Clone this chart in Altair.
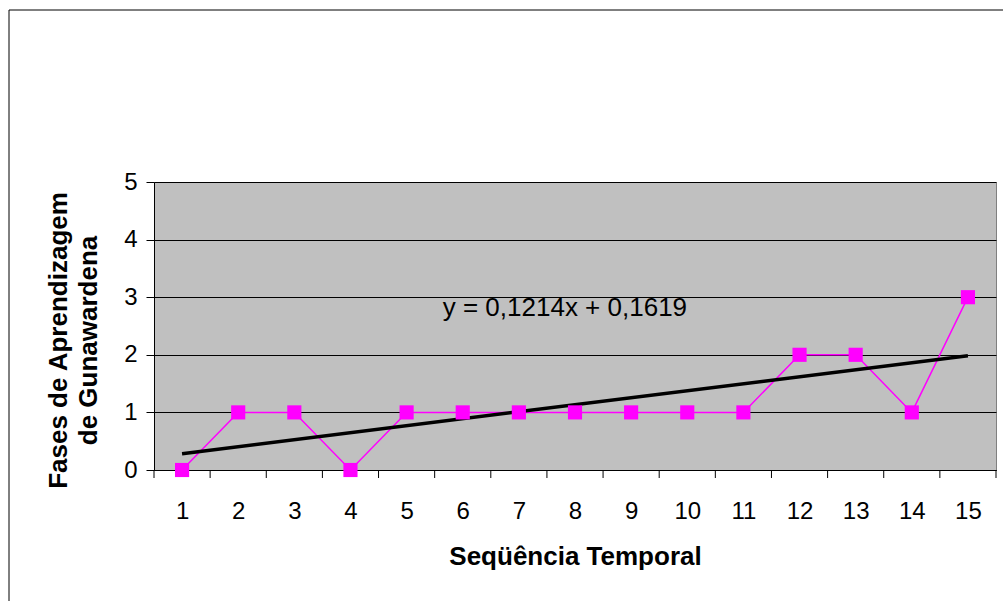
import altair as alt
import pandas as pd

seq = list(range(1, 16))
fases = [0, 1, 1, 0, 1, 1, 1, 1, 1, 1, 1, 2, 2, 1, 3]
slope, intercept = 0.1214, 0.1619
equation = "y = 0,1214x + 0,1619"
boundaries = [i + 0.5 for i in range(0, 16)]

df = pd.DataFrame({"x": seq, "y": fases})
trend = pd.DataFrame({"x": [seq[0], seq[-1]],
                      "y": [slope * seq[0] + intercept, slope * seq[-1] + intercept]})
ticks = pd.DataFrame({"x": boundaries})
eq = pd.DataFrame({"x": [7.82], "y": [2.81], "t": [equation]})

FONT = "Liberation Sans"
W, H = 842, 288

xscale = alt.Scale(domain=[0.5, 15.5], nice=False, zero=False)
yscale = alt.Scale(domain=[0, 5], nice=False)

xaxis = alt.Axis(values=seq, format="d", ticks=False, labelPadding=29, labelFontSize=24,
                 labelFont=FONT, labelColor="black", grid=False, domainColor="black",
                 title="Seqüência Temporal", titleFont=FONT, titleFontSize=26,
                 titleFontWeight="bold", titleColor="black", titlePadding=20)
yaxis = alt.Axis(values=[0, 1, 2, 3, 4, 5], format="d", tickSize=8, tickColor="black",
                 labelPadding=9, labelFontSize=24, labelFont=FONT, labelColor="black",
                 grid=True, gridColor="black", gridWidth=1, domainColor="black",
                 title=["Fases de Aprendizagem", "de Gunawardena"], titleFont=FONT,
                 titleFontSize=26, titleFontWeight="bold", titleColor="black",
                 titlePadding=22, titleLineHeight=30, titleY=158)

border = alt.Chart(pd.DataFrame({"a": [0]})).mark_rect(
    fill=None, stroke="black", strokeWidth=1
).encode(x=alt.value(-145), x2=alt.value(W + 200), y=alt.value(-172), y2=alt.value(H + 200))

line = alt.Chart(df).mark_line(color="#FF00FF", strokeWidth=1.5).encode(
    x=alt.X("x:Q", scale=xscale, axis=xaxis),
    y=alt.Y("y:Q", scale=yscale, axis=yaxis),
)
pts = alt.Chart(df).mark_square(color="#FF00FF", size=200, opacity=1).encode(
    x="x:Q", y="y:Q")
tr = alt.Chart(trend).mark_line(color="black", strokeWidth=3.5).encode(x="x:Q", y="y:Q")
tk = alt.Chart(ticks).mark_rule(color="black", strokeWidth=1).encode(
    x="x:Q", y=alt.value(H), y2=alt.value(H + 8))
txt = alt.Chart(eq).mark_text(font=FONT, fontSize=26, color="black").encode(
    x="x:Q", y="y:Q", text="t:N")

chart = alt.layer(border, line, tr, pts, tk, txt).properties(
    width=W, height=H,
    autosize=alt.AutoSizeParams(type="none"),
    padding={"left": 154, "top": 182, "right": 7, "bottom": 131},
    background="white",
).configure_view(fill="#C0C0C0", stroke="#808080", strokeWidth=1)

chart.save("out.html", embed_options={"renderer": "svg", "actions": False})
